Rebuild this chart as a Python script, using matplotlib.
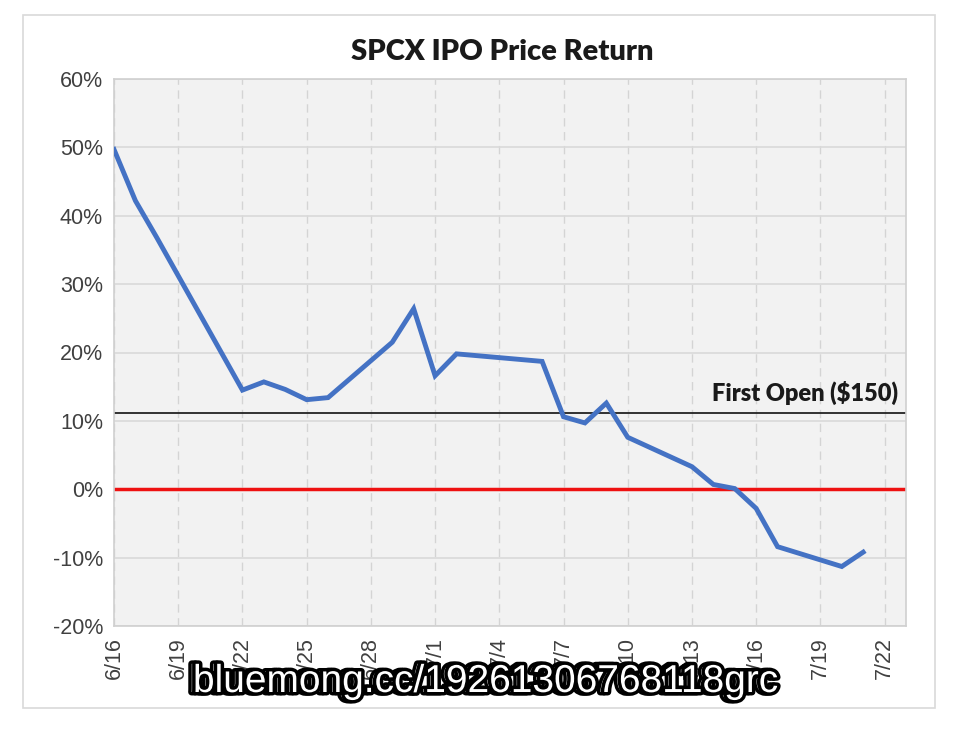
import datetime as dt
import matplotlib
matplotlib.use("Agg")
import matplotlib.pyplot as plt
import matplotlib.patheffects as pe
from matplotlib.patches import Rectangle
from matplotlib.ticker import FuncFormatter, MultipleLocator

# trading days (month, day) and return in %
dates = [(6, 16), (6, 17), (6, 18), (6, 22), (6, 23), (6, 24), (6, 25), (6, 26),
         (6, 29), (6, 30), (7, 1), (7, 2), (7, 6), (7, 7), (7, 8), (7, 9), (7, 10),
         (7, 13), (7, 14), (7, 15), (7, 16), (7, 17), (7, 20), (7, 21)]
returns = [49.7, 42.2, 36.8, 14.5, 15.7, 14.6, 13.1, 13.4,
           21.5, 26.4, 16.6, 19.8, 18.7, 10.6, 9.7, 12.6, 7.6,
           3.3, 0.7, 0.1, -2.8, -8.4, -11.3, -9.2]
first_open = 11.1
title = "SPCX IPO Price Return"
first_open_label = "First Open ($150)"
watermark = "bluemong.cc/19261306768118grc"

YEAR = 2026
x = [dt.date(YEAR, m, d) for m, d in dates]

fig = plt.figure(figsize=(9.6, 7.35), dpi=100)
fig.patches.append(Rectangle((23 / 960, 1 - 708 / 735), 912 / 960, 693 / 735,
                             transform=fig.transFigure, fill=False,
                             edgecolor="#d9d9d9", lw=1.2))
ax = fig.add_axes([114 / 960, 1 - 626 / 735, 792 / 960, 547 / 735])
ax.set_facecolor("#f2f2f2")

ax.set_xlim(dt.date(YEAR, 6, 16), dt.date(YEAR, 7, 23))
ax.set_ylim(-20, 60)
ax.yaxis.set_major_locator(MultipleLocator(10))
ax.yaxis.set_major_formatter(FuncFormatter(lambda v, p: f"{v:.0f}%"))
ticks = [dt.date(YEAR, 6, 16) + dt.timedelta(days=3 * i) for i in range(13)]
ax.set_xticks(ticks)
ax.set_xticklabels([f"{t.month}/{t.day}" for t in ticks], rotation=90)

ax.grid(axis="y", color="#d9d9d9", lw=1.2, ls="-")
ax.grid(axis="x", color="#d4d4d4", lw=1.0, ls=(0, (6, 4)))
ax.set_axisbelow(True)
for s in ax.spines.values():
    s.set_color("#d0d0d0")
    s.set_linewidth(1.2)
ax.tick_params(length=0, labelsize=15.5, labelcolor="#404040", pad=8)
for lab in ax.get_xticklabels() + ax.get_yticklabels():
    lab.set_fontfamily("Liberation Sans")

ax.axhline(0, color="#ee1111", lw=2.5, zorder=2)
ax.axhline(first_open, color="#222222", lw=1.3, zorder=2)
ax.plot(x, returns, color="#4472c4", lw=3.5, solid_joinstyle="miter", zorder=3)

ax.text(0.99, first_open + 1.2, first_open_label, transform=ax.get_yaxis_transform(),
        ha="right", va="bottom", fontsize=17, fontweight="heavy",
        fontfamily="Lato", color="#1a1a1a")
fig.text(502 / 960, 1 - 52 / 735, title, ha="center", va="center",
         fontsize=21, fontweight="heavy", fontfamily="Lato", color="#1a1a1a")

for dx in (0.0, 0.004):
    fig.text(482 / 960 + dx, 1 - 682 / 735, watermark, ha="center", va="center",
             fontsize=28, fontfamily="Liberation Sans", color="white",
             path_effects=[pe.withStroke(linewidth=5, foreground="black")])

fig.savefig("out.png", dpi=100, facecolor="white")
